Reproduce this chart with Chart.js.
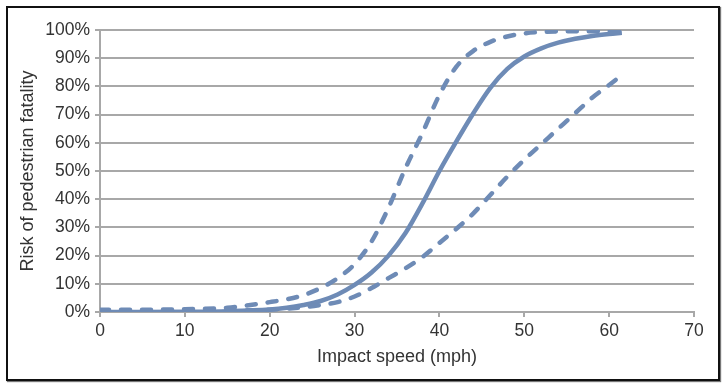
<!DOCTYPE html>
<html>
<head>
<meta charset="utf-8">
<script src="https://cdn.jsdelivr.net/npm/chart.js@4"></script>
<style>
  html, body { margin: 0; padding: 0; background: #fff; }
  #wrap { position: relative; width: 727px; height: 389px; }
  #c { position: absolute; left: 0; top: 0; }
  #frame { position: absolute; left: 6px; top: 6px; width: 710px; height: 371px;
           border: 2px solid #111; box-shadow: 1px 1px 1px #777; pointer-events: none; }
</style>
</head>
<body>
<div id="wrap">
  <canvas id="c" width="727" height="389"></canvas>
  <div id="frame"></div>
</div>
<script>
// Impact speed (mph)
const speeds = [0, 5, 10, 15, 20, 22, 24, 26, 28, 30, 32, 34, 36, 38, 40, 42, 44, 46, 48, 50, 52, 54, 56, 58, 60, 61.5];
// Risk of pedestrian fatality (%) — central estimate
const riskMid = [0.0, 0.0, 0.1, 0.3, 0.9, 1.5, 2.5, 3.9, 6.2, 9.6, 14, 20, 28, 38.5, 50, 60.5, 70.5, 79.5, 86.2, 90.6, 93.5, 95.5, 96.9, 97.9, 98.6, 99.0];
// Upper bound (dashed)
const riskUpper = [0.8, 0.8, 1.0, 1.5, 3.5, 4.5, 6.0, 8.5, 12, 17, 25, 37, 51, 63.5, 77, 87, 92.6, 95.8, 97.7, 98.8, 99.3, 99.5, 99.6, 99.6, 99.6, 99.6];
// Lower bound (dashed)
const riskLower = [0.2, 0.2, 0.3, 0.5, 0.8, 1.2, 1.7, 2.5, 3.5, 5.5, 8.5, 12, 15.5, 19.5, 24.5, 29.5, 35, 41.5, 48, 54, 59.5, 65, 70.5, 76, 80.5, 84];
// Axis tick values
const xTicks = [0, 10, 20, 30, 40, 50, 60, 70];
const yTicks = [0, 10, 20, 30, 40, 50, 60, 70, 80, 90, 100];

const toPts = arr => speeds.map((s, i) => ({ x: s, y: arr[i] }));
const lineColor = 'rgb(110,139,182)';
const fontFam = '"Liberation Sans", Arial, Helvetica, sans-serif';
const textColor = '#333';

new Chart(document.getElementById('c'), {
  type: 'line',
  data: {
    datasets: [
      { data: toPts(riskUpper), borderColor: lineColor, borderWidth: 4.5, borderDash: [9, 12], borderCapStyle: 'round', pointRadius: 0, cubicInterpolationMode: 'monotone', fill: false },
      { data: toPts(riskLower), borderColor: lineColor, borderWidth: 4.5, borderDash: [9, 12], borderCapStyle: 'round', pointRadius: 0, cubicInterpolationMode: 'monotone', fill: false },
      { data: toPts(riskMid), borderColor: lineColor, borderWidth: 4.5, pointRadius: 0, cubicInterpolationMode: 'monotone', fill: false }
    ]
  },
  options: {
    responsive: false,
    animation: false,
    events: [],
    layout: { padding: { left: 0, top: 30, right: 33, bottom: 0 } },
    plugins: { legend: { display: false }, tooltip: { enabled: false } },
    scales: {
      x: {
        type: 'linear', min: 0, max: 70,
        afterBuildTicks: s => { s.ticks = xTicks.map(v => ({ value: v })); },
        afterFit: s => { s.height = 77; },
        grid: { drawOnChartArea: false, drawTicks: true, tickLength: 5, color: '#a8a8a8', lineWidth: 2 },
        border: { color: '#a8a8a8', width: 2 },
        ticks: { color: textColor, font: { family: fontFam, size: 17.5 }, padding: 4, maxRotation: 0 },
        title: { display: true, text: 'Impact speed (mph)', color: textColor, font: { family: fontFam, size: 18 }, padding: { top: 0, bottom: 21 } }
      },
      y: {
        min: 0, max: 100,
        afterBuildTicks: s => { s.ticks = yTicks.map(v => ({ value: v })); },
        afterFit: s => { s.width = 100; },
        grid: { drawTicks: true, tickLength: 5, color: '#a8a8a8', lineWidth: 2 },
        border: { color: '#a8a8a8', width: 2 },
        ticks: { color: textColor, font: { family: fontFam, size: 17.5 }, padding: 5, callback: v => v + '%' },
        title: { display: true, text: 'Risk of pedestrian fatality', color: textColor, font: { family: fontFam, size: 18 }, padding: { top: 17, bottom: 0 } }
      }
    }
  }
});
</script>
</body>
</html>
